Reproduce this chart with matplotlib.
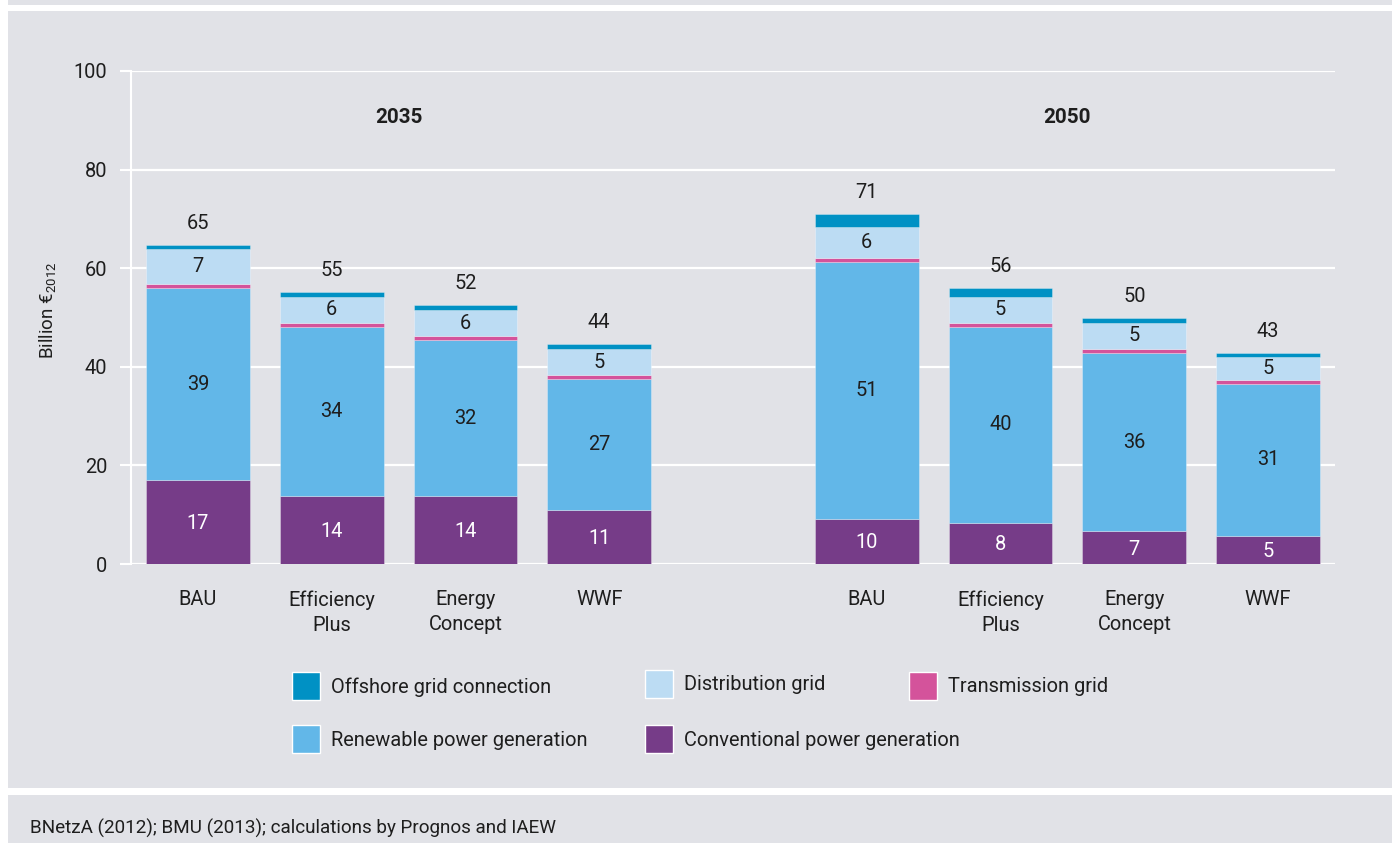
import matplotlib
matplotlib.use("Agg")
import matplotlib.pyplot as plt
from matplotlib.patches import Rectangle

plt.rcParams['font.family'] = ['Roboto', 'DejaVu Sans']
plt.rcParams['mathtext.fontset'] = 'custom'
plt.rcParams['mathtext.rm'] = 'Roboto'
plt.rcParams['mathtext.default'] = 'regular'

# ---- data ----
scenarios = ["BAU", "Efficiency\nPlus", "Energy\nConcept", "WWF",
             "BAU", "Efficiency\nPlus", "Energy\nConcept", "WWF"]
years = ["2035", "2050"]
conventional = [17.0, 13.7, 13.7, 11.0, 9.2, 8.4, 6.6, 5.7]
renewable = [38.9, 34.3, 31.7, 26.5, 52.1, 39.7, 36.2, 30.9]
transmission = [0.9, 0.9, 0.8, 0.8, 0.8, 0.8, 0.8, 0.8]
distribution = [7.1, 5.3, 5.3, 5.3, 6.2, 5.3, 5.3, 4.5]
offshore = [0.8, 0.9, 1.0, 1.0, 2.7, 1.8, 0.9, 0.8]
conv_labels = ["17", "14", "14", "11", "10", "8", "7", "5"]
ren_labels = ["39", "34", "32", "27", "51", "40", "36", "31"]
dist_labels = ["7", "6", "6", "5", "6", "5", "5", "5"]
total_labels = ["65", "55", "52", "44", "71", "56", "50", "43"]
yticks = [0, 20, 40, 60, 80, 100]

# ---- colours ----
BG = "#e1e2e7"
C_OFF = "#0091c4"
C_DIST = "#bcdcf3"
C_TRANS = "#d4539b"
C_REN = "#62b7e8"
C_CONV = "#763c88"
TXT = "#1e1e1e"
FS = 14.4

W, H = 1392, 843
fig = plt.figure(figsize=(W / 100, H / 100), dpi=100, facecolor="white")

def fig_rect(x0, y0_top, x1, y1_top, color):
    fig.patches.append(Rectangle((x0 / W, 1 - y1_top / H), (x1 - x0) / W,
                                 (y1_top - y0_top) / H, transform=fig.transFigure,
                                 facecolor=color, edgecolor="none", zorder=-10))

fig_rect(8, 0, W, 5, BG)
fig_rect(8, 11, W, 788, BG)
fig_rect(8, 795, W, 843, BG)

ax_l, ax_r, ax_t, ax_b = 131, 1335, 71, 564
ax = fig.add_axes([ax_l / W, 1 - ax_b / H, (ax_r - ax_l) / W, (ax_b - ax_t) / H])
ax.set_facecolor("none")

xpos = [0, 1, 2, 3, 5, 6, 7, 8]
bw = 0.775
series = [
    (conventional, C_CONV),
    (renewable, C_REN),
    (transmission, C_TRANS),
    (distribution, C_DIST),
    (offshore, C_OFF),
]
bottom = [0.0] * len(xpos)
bottoms = []
for vals, col in series:
    bottoms.append(list(bottom))
    ax.bar(xpos, vals, bw, bottom=bottom, color=col, edgecolor=(1, 1, 1, 0.35),
           linewidth=0.6, zorder=3)
    bottom = [b + v for b, v in zip(bottom, vals)]
totals = bottom

for i, x in enumerate(xpos):
    ax.text(x, bottoms[0][i] + conventional[i] / 2 - 0.3, conv_labels[i], ha="center",
            va="center", color="white", fontsize=FS, zorder=5)
    ax.text(x, bottoms[1][i] + renewable[i] / 2, ren_labels[i], ha="center",
            va="center", color=TXT, fontsize=FS, zorder=5)
    ax.text(x, bottoms[3][i] + distribution[i] / 2, dist_labels[i], ha="center",
            va="center", color=TXT, fontsize=FS, zorder=5)
    ax.text(x, totals[i] + 4.4, total_labels[i], ha="center", va="center",
            color=TXT, fontsize=FS, zorder=5)

ax.text(1.5, 90.5, years[0], ha="center", va="center", fontsize=FS + 0.5,
        fontweight="bold", color=TXT)
ax.text(6.5, 90.5, years[1], ha="center", va="center", fontsize=FS + 0.5,
        fontweight="bold", color=TXT)

ax.set_xlim(-0.5, 8.5)
ax.set_ylim(0, 100)
ax.set_yticks(yticks)
ax.set_yticklabels([str(v) for v in yticks], fontsize=FS, color=TXT)
ax.set_xticks(xpos)
ax.set_xticklabels(scenarios, fontsize=FS, color=TXT, linespacing=1.4)
ax.tick_params(axis="x", length=0, pad=19)
ax.tick_params(axis="y", length=8, width=1.5, color="white", pad=9, direction="out")
for s in ["top", "right", "bottom"]:
    ax.spines[s].set_visible(False)
ax.spines["left"].set_color("white")
ax.spines["left"].set_linewidth(1.5)
ax.spines["left"].set_zorder(1)
ax.grid(axis="y", color="white", linewidth=1.6, zorder=0)
ax.set_axisbelow(True)

fig.text(47 / W, 1 - 310 / H, r"Billion €$_{2012}$", rotation=90, ha="center",
         va="center", fontsize=13.5, color=TXT)

# legend
legend_items = [
    ("Offshore grid connection", C_OFF, 292, 672),
    ("Distribution grid", C_DIST, 645, 670),
    ("Transmission grid", C_TRANS, 909, 672),
    ("Renewable power generation", C_REN, 292, 725),
    ("Conventional power generation", C_CONV, 645, 725),
]
for label, col, x0, y0 in legend_items:
    fig.patches.append(Rectangle((x0 / W, 1 - (y0 + 28) / H), 28 / W, 28 / H,
                                 transform=fig.transFigure, facecolor=col,
                                 edgecolor="white", linewidth=1.0, zorder=2))
    fig.text((x0 + 39) / W, 1 - (y0 + 15) / H, label, ha="left", va="center",
             fontsize=FS, color=TXT)

fig.text(30 / W, 1 - 828 / H, "BNetzA (2012); BMU (2013); calculations by Prognos and IAEW",
         ha="left", va="center", fontsize=13.6, color=TXT)

fig.savefig("out.png", dpi=100, facecolor="white")
